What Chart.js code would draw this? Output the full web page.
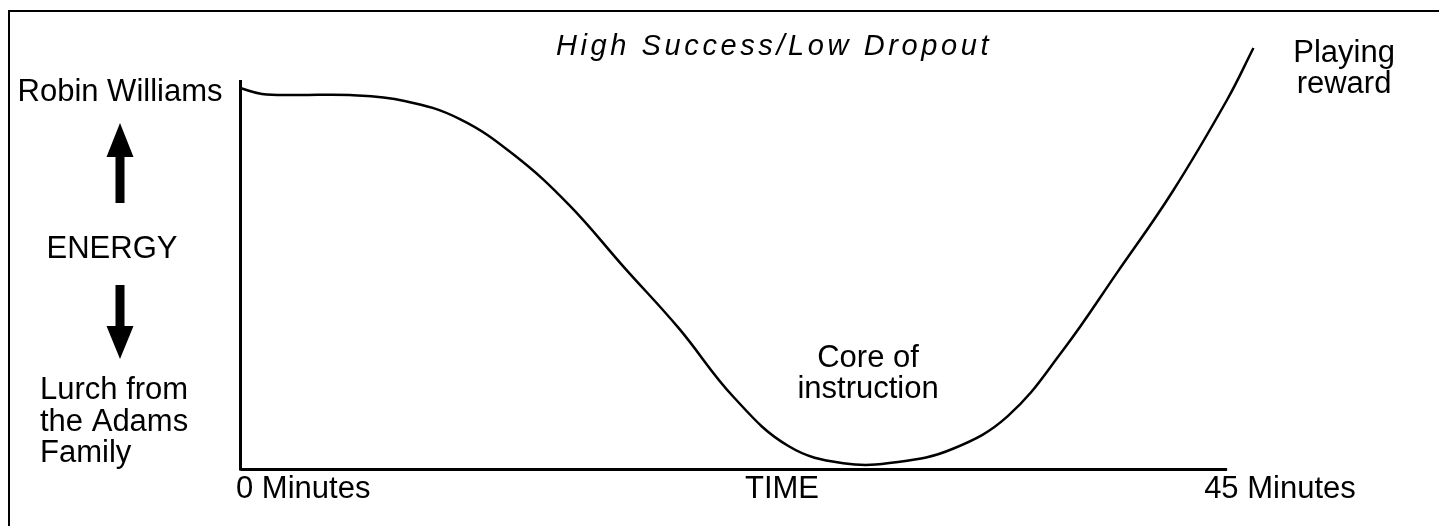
<!DOCTYPE html>
<html>
<head>
<meta charset="utf-8">
<script src="https://cdn.jsdelivr.net/npm/chart.js@4/dist/chart.umd.min.js"></script>
<style>
  html, body { margin: 0; padding: 0; background: #fff; }
  #wrap { width: 1439px; height: 526px; position: relative; }
</style>
</head>
<body>
<div id="wrap"><canvas id="c" width="1439" height="526"></canvas></div>
<script>
// ---- data (x = minutes, y = energy level, 0 = Lurch, 100 = Robin Williams) ----
const minutes = [0, 1, 2.5, 5, 7.5, 10, 12.5, 15, 17.5, 20, 22.5, 25, 27.5, 30, 32.5, 35, 37.5, 40, 42.5, 45, 46.2];
const energy  = [97.9, 96.4, 96.1, 96.1, 94.6, 90.0, 80.7, 67.9, 51.9, 36.2, 18.5, 5.9, 1.5, 1.8, 5.2, 13.6, 30.4, 50.6, 71.2, 94.9, 108.2];
const xTickLabels = ["0 Minutes", "45 Minutes"];
const xTickValues = [0, 45];
const xTitle = "TIME";
const yTitle = "ENERGY";
const yTopLabel = ["Robin Williams"];
const yBottomLabel = ["Lurch from", "the Adams", "Family"];
const notes = [
  { lines: ["Core of", "instruction"], x: 28.63, y: 26.2 },
  { lines: ["Playing", "reward"], x: 50.33, y: 104.6 }
];
const titleText = "High Success/Low Dropout";
const axisMax = { x: 45, y: 100 };

const FONT = '"Liberation Sans", Arial, Helvetica, sans-serif';

const axes = {
  id: 'axes',
  beforeDatasetsDraw(chart) {
    const ctx = chart.ctx;
    const xs = chart.scales.x, ys = chart.scales.y;
    const x0 = xs.getPixelForValue(0), y0 = ys.getPixelForValue(0);
    ctx.save();
    ctx.strokeStyle = '#000';
    ctx.lineWidth = 3;
    ctx.lineCap = 'butt';
    ctx.beginPath();
    ctx.moveTo(x0 + 0.5, ys.getPixelForValue(axisMax.y));
    ctx.lineTo(x0 + 0.5, y0 + 1.5);
    ctx.moveTo(x0 + 0.5, y0 + 0.5);
    ctx.lineTo(xs.getPixelForValue(axisMax.x), y0 + 0.5);
    ctx.stroke();
    ctx.restore();
  }
};

const decor = {
  id: 'decor',
  afterDraw(chart) {
    const ctx = chart.ctx;
    const xs = chart.scales.x, ys = chart.scales.y;
    ctx.save();
    // outer frame (left + top edges visible)
    ctx.strokeStyle = '#000';
    ctx.lineWidth = 2;
    ctx.strokeRect(9, 11, 1500, 600);

    ctx.fillStyle = '#000';
    // title
    ctx.font = 'italic 29px ' + FONT;
    ctx.textAlign = 'center';
    ctx.textBaseline = 'alphabetic';
    try { ctx.letterSpacing = '3.6px'; } catch (e) {}
    ctx.fillText(titleText, 774, 55);
    try { ctx.letterSpacing = '0px'; } catch (e) {}

    ctx.font = '31px ' + FONT;
    // y labels
    const yTop = ys.getPixelForValue(axisMax.y);
    ctx.textAlign = 'center';
    ctx.fillText(yTopLabel[0], 120, yTop + 21);
    ctx.fillText(yTitle, 112, 258);
    ctx.textAlign = 'left';
    yBottomLabel.forEach((t, i) => ctx.fillText(t, 40, 399 + i * 31.5));

    // arrows
    const ax = 120;
    ctx.beginPath();
    ctx.moveTo(ax, 123); ctx.lineTo(ax + 13.5, 157); ctx.lineTo(ax - 13.5, 157); ctx.closePath(); ctx.fill();
    ctx.fillRect(ax - 4.5, 156, 9, 47);
    ctx.beginPath();
    ctx.moveTo(ax, 359); ctx.lineTo(ax + 13.5, 326); ctx.lineTo(ax - 13.5, 326); ctx.closePath(); ctx.fill();
    ctx.fillRect(ax - 4.5, 285, 9, 42);

    // x labels
    const base = ys.getPixelForValue(0) + 29;
    ctx.textAlign = 'left';
    ctx.fillText(xTickLabels[0], xs.getPixelForValue(xTickValues[0]) - 4, base);
    ctx.fillText(xTickLabels[1], xs.getPixelForValue(xTickValues[1]) - 23, base);
    ctx.textAlign = 'center';
    ctx.fillText(xTitle, 782, base);

    // notes
    notes.forEach(n => {
      const px = xs.getPixelForValue(n.x), py = ys.getPixelForValue(n.y);
      n.lines.forEach((t, i) => ctx.fillText(t, px, py + i * 30.5));
    });
    ctx.restore();
  }
};

new Chart(document.getElementById('c'), {
  type: 'line',
  data: {
    datasets: [{
      data: minutes.map((m, i) => ({ x: m, y: energy[i] })),
      borderColor: '#000',
      borderWidth: 2.5,
      pointRadius: 0,
      fill: false,
      tension: 0.4,
      clip: false
    }]
  },
  options: {
    responsive: false,
    animation: false,
    events: [],
    layout: { padding: { left: 240, right: 168, top: 41, bottom: 57 } },
    plugins: { legend: { display: false }, title: { display: false }, tooltip: { enabled: false } },
    scales: {
      x: { type: 'linear', min: 0, max: 47, display: false },
      y: { type: 'linear', min: 0, max: 110, display: false }
    }
  },
  plugins: [axes, decor]
});
</script>
</body>
</html>
